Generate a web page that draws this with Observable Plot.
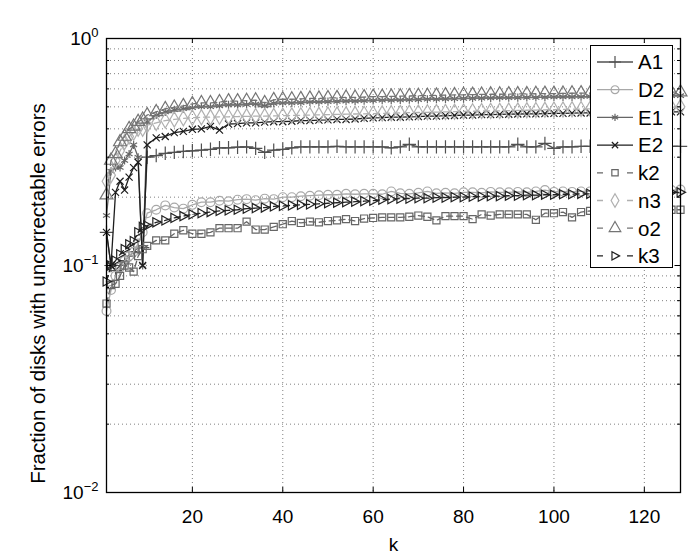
<!DOCTYPE html>
<html><head><meta charset="utf-8">
<script src="https://cdn.jsdelivr.net/npm/d3@7"></script>
<script src="https://cdn.jsdelivr.net/npm/@observablehq/plot@0.6"></script>
<style>
body{margin:0;background:#fff;}
#wrap{position:relative;width:700px;height:554px;font-family:"Liberation Sans",Arial,sans-serif;}
#legend{position:absolute;left:590px;top:45px;width:83px;height:223px;border:1.3px solid #000;background:#fff;box-sizing:border-box;}
</style></head><body><div id="wrap"><div id="legend"></div></div>
<script>
const k = [1,2,3,4,5,6,7,8,9,10,12,14,16,18,20,22,24,26,28,30,32,34,36,38,40,42,44,46,48,50,52,54,56,58,60,62,64,66,68,70,72,74,76,78,80,82,84,86,88,90,92,94,96,98,100,102,104,106,108,110,112,114,116,118,120,122,124,126,128];

const A1 = [0.14,0.10,0.095,0.10,0.105,0.11,0.115,0.12,0.12,0.30,
 0.305,0.312,0.315,0.318,0.32,0.322,0.325,0.33,0.33,0.332,
 0.333,0.328,0.315,0.322,0.325,0.33,0.333,0.333,0.333,0.333,
 0.335,0.333,0.333,0.333,0.333,0.333,0.33,0.333,0.342,0.333,
 0.333,0.333,0.333,0.333,0.333,0.333,0.333,0.333,0.333,0.333,
 0.342,0.333,0.333,0.345,0.328,0.333,0.333,0.335,0.335,0.335,
 0.335,0.335,0.335,0.335,0.335,0.335,0.335,0.335,0.335];
const D2 = [0.063,0.078,0.09,0.098,0.105,0.11,0.115,0.125,0.14,0.17,
 0.176,0.184,0.18,0.178,0.185,0.19,0.19,0.193,0.192,0.195,
 0.196,0.194,0.197,0.196,0.2,0.2,0.202,0.203,0.204,0.205,
 0.205,0.207,0.206,0.207,0.207,0.206,0.212,0.208,0.207,0.209,
 0.212,0.208,0.209,0.208,0.21,0.21,0.209,0.211,0.21,0.21,
 0.211,0.21,0.212,0.215,0.211,0.212,0.211,0.212,0.212,0.213,
 0.213,0.213,0.214,0.214,0.214,0.215,0.215,0.215,0.216];
const E1 = [0.166,0.26,0.27,0.27,0.29,0.31,0.34,0.30,0.10,0.43,
 0.46,0.475,0.485,0.49,0.495,0.50,0.50,0.505,0.51,0.51,
 0.512,0.515,0.505,0.518,0.52,0.52,0.522,0.525,0.525,0.527,
 0.528,0.53,0.53,0.532,0.533,0.535,0.535,0.536,0.537,0.538,
 0.54,0.54,0.542,0.543,0.544,0.545,0.546,0.547,0.548,0.548,
 0.549,0.55,0.55,0.551,0.552,0.553,0.553,0.554,0.555,0.555,
 0.556,0.556,0.557,0.557,0.558,0.558,0.559,0.56,0.56];
const E2 = [0.14,0.10,0.21,0.235,0.215,0.245,0.27,0.285,0.10,0.34,
 0.365,0.37,0.385,0.39,0.398,0.40,0.41,0.395,0.42,0.422,
 0.425,0.425,0.428,0.43,0.43,0.432,0.435,0.435,0.437,0.438,
 0.44,0.44,0.442,0.445,0.447,0.448,0.45,0.45,0.452,0.453,
 0.455,0.455,0.457,0.458,0.46,0.46,0.462,0.462,0.463,0.464,
 0.465,0.466,0.466,0.467,0.468,0.468,0.469,0.47,0.47,0.47,
 0.471,0.472,0.472,0.473,0.473,0.474,0.474,0.475,0.475];
const k2 = [0.068,0.082,0.083,0.09,0.10,0.098,0.094,0.11,0.118,0.122,
 0.129,0.129,0.138,0.143,0.138,0.138,0.14,0.146,0.146,0.146,
 0.156,0.144,0.144,0.148,0.152,0.157,0.154,0.156,0.155,0.157,
 0.158,0.16,0.157,0.161,0.162,0.163,0.163,0.163,0.164,0.166,
 0.164,0.158,0.165,0.165,0.165,0.16,0.168,0.166,0.168,0.168,
 0.168,0.168,0.159,0.17,0.17,0.172,0.163,0.172,0.174,0.172,
 0.173,0.172,0.174,0.174,0.175,0.174,0.175,0.176,0.176];
const n3 = [0.235,0.25,0.29,0.32,0.35,0.37,0.385,0.40,0.40,0.415,
 0.425,0.435,0.44,0.445,0.448,0.45,0.45,0.452,0.452,0.453,
 0.454,0.455,0.455,0.456,0.457,0.458,0.459,0.46,0.461,0.462,
 0.463,0.464,0.465,0.466,0.467,0.468,0.469,0.47,0.471,0.472,
 0.473,0.474,0.475,0.476,0.477,0.478,0.479,0.48,0.48,0.481,
 0.482,0.483,0.484,0.485,0.486,0.487,0.488,0.489,0.49,0.49,
 0.491,0.492,0.493,0.494,0.495,0.496,0.497,0.498,0.50];
const o2 = [0.204,0.29,0.31,0.35,0.37,0.40,0.41,0.43,0.44,0.46,
 0.475,0.49,0.497,0.505,0.515,0.52,0.52,0.525,0.53,0.53,
 0.532,0.535,0.52,0.537,0.54,0.54,0.542,0.545,0.545,0.547,
 0.548,0.55,0.55,0.552,0.555,0.555,0.556,0.557,0.558,0.56,
 0.56,0.562,0.563,0.564,0.565,0.566,0.567,0.568,0.568,0.569,
 0.57,0.57,0.571,0.572,0.572,0.573,0.574,0.575,0.575,0.576,
 0.576,0.577,0.577,0.578,0.578,0.579,0.579,0.58,0.58];
const k3 = [0.085,0.10,0.105,0.112,0.118,0.124,0.128,0.14,0.148,0.15,
 0.155,0.158,0.162,0.165,0.168,0.17,0.172,0.174,0.175,0.176,
 0.178,0.179,0.18,0.182,0.183,0.184,0.185,0.186,0.187,0.188,
 0.189,0.19,0.191,0.192,0.193,0.195,0.196,0.197,0.197,0.198,
 0.198,0.199,0.199,0.2,0.2,0.201,0.201,0.202,0.202,0.203,
 0.203,0.204,0.204,0.205,0.205,0.206,0.206,0.207,0.207,0.208,
 0.208,0.208,0.209,0.209,0.209,0.21,0.21,0.21,0.21];

const seriesNames = ["A1","D2","E1","E2","k2","n3","o2","k3"];
const xTicks = [20,40,60,80,100,120];
const yTicks = [0.01,0.1,1];
const yTickLabels = ["10^-2","10^-1","10^0"];

const triRight = {
  draw(ctx, size) {
    const h = Math.sqrt(size) * 0.62;
    ctx.moveTo(h * 1.05, 0);
    ctx.lineTo(-h * 0.7, -h * 0.95);
    ctx.lineTo(-h * 0.7, h * 0.95);
    ctx.closePath();
  }
};

const styles = {
  A1: {values: A1, color: "#505050", dash: null, symbol: "plus", r: 4.4},
  D2: {values: D2, color: "#a8a8a8", dash: null, symbol: "circle", r: 4.4},
  E1: {values: E1, color: "#666666", dash: null, symbol: "asterisk", r: 3.8},
  E2: {values: E2, color: "#1e1e1e", dash: null, symbol: "times", r: 3.3},
  k2: {values: k2, color: "#666666", dash: "6,4", symbol: "square", r: 4.0},
  n3: {values: n3, color: "#b0b0b0", dash: "6,4", symbol: "diamond", r: 4.6},
  o2: {values: o2, color: "#747474", dash: "6,4", symbol: "triangle", r: 4.8},
  k3: {values: k3, color: "#222222", dash: "6,4", symbol: triRight, r: 4.4}
};

const W = 700, H = 554, mL = 106, mR = 20, mT = 38, mB = 62;
const fw = W - mL - mR, fh = H - mT - mB;

const yMinor = [];
for (const d of [0.01, 0.1]) for (let m = 2; m <= 9; m++) yMinor.push(d * m);

const marks = [
  Plot.ruleX(xTicks, {x: d => d, stroke: "#808080", strokeDasharray: "1,3", strokeWidth: 1}),
  Plot.ruleY(yMinor.concat([0.1]), {y: d => d, stroke: "#808080", strokeDasharray: "1,3", strokeWidth: 1})
];

for (const name of seriesNames) {
  const s = styles[name];
  const rows = k.map((kk, i) => ({k: kk, v: s.values[i]}));
  marks.push(Plot.line(rows, {x: "k", y: "v", stroke: s.color, strokeWidth: 1.3, strokeDasharray: s.dash}));
  marks.push(Plot.dot(rows, {x: "k", y: "v", symbol: () => s.symbol, r: s.r, stroke: s.color, fill: "none", strokeWidth: 1.2}));
}

marks.push(
  Plot.frame({stroke: "#000", strokeWidth: 1.3}),
  Plot.tickX(xTicks, {x: d => d, insetTop: fh - 5, stroke: "#000"}),
  Plot.tickX(xTicks, {x: d => d, insetBottom: fh - 5, stroke: "#000"}),
  Plot.tickY(yTicks, {y: d => d, insetRight: fw - 5, stroke: "#000"}),
  Plot.tickY(yTicks, {y: d => d, insetLeft: fw - 5, stroke: "#000"}),
  Plot.tickY(yMinor, {y: d => d, insetRight: fw - 3, stroke: "#000"}),
  Plot.tickY(yMinor, {y: d => d, insetLeft: fw - 3, stroke: "#000"}),
  Plot.axisX(xTicks, {tickSize: 0, tickPadding: 17, label: "k", labelAnchor: "center", labelArrow: "none", labelOffset: 58}),
  Plot.axisY(yTicks, {tickSize: 0, tickPadding: 8, tickFormat: d => yTickLabels[yTicks.indexOf(d)],
    label: "Fraction of disks with uncorrectable errors", labelAnchor: "center", labelArrow: "none", labelOffset: 76})
);

const chart = Plot.plot({
  width: W, height: H,
  marginLeft: mL, marginRight: mR, marginTop: mT, marginBottom: mB,
  x: {domain: [1, 128]},
  y: {type: "log", domain: [0.01, 1]},
  style: {fontFamily: "'Liberation Sans', Arial, sans-serif", fontSize: "19px", color: "#000", background: "#fff", overflow: "visible"},
  marks
});

const sel = d3.select(chart);
sel.selectAll('g[aria-label="x-axis tick label"] text, g[aria-label="y-axis tick label"] text, g[aria-label="x-axis label"] text')
  .style("font-size", "19px").style("font-family", "'Liberation Sans', Arial, sans-serif");
// y-axis title: slightly larger, and sitting a little below the frame centre as in the original
sel.selectAll('g[aria-label="y-axis label"] text')
  .style("font-size", "20.5px").style("font-family", "'Liberation Sans', Arial, sans-serif")
  .attr("dx", -28);

// superscript exponents on y tick labels
sel.selectAll('g[aria-label="y-axis tick label"] text').each(function () {
  const t = this.textContent;
  const exp = t.split("^")[1];
  this.textContent = "";
  const s = d3.select(this);
  s.append("tspan").text("10");
  s.append("tspan").attr("dy", "-0.55em").style("font-size", "13px").text(exp.replace("-", "\u2212"));
});

const wrap = document.getElementById("wrap");
wrap.insertBefore(chart, wrap.firstChild);

// legend
const lg = d3.select("#legend").append("svg").attr("width", 81).attr("height", 221);
seriesNames.forEach((name, i) => {
  const s = styles[name];
  const cy = 16 + i * 27.7;
  lg.append("line").attr("x1", 6).attr("x2", 42).attr("y1", cy).attr("y2", cy)
    .attr("stroke", s.color).attr("stroke-width", 1.3)
    .attr("stroke-dasharray", s.dash ? "6,24" : null);
  const sym = typeof s.symbol === "string"
    ? {plus: d3.symbolPlus, circle: d3.symbolCircle, asterisk: d3.symbolAsterisk, times: d3.symbolTimes, square: d3.symbolSquare, diamond: d3.symbolDiamond, triangle: d3.symbolTriangle}[s.symbol]
    : s.symbol;
  lg.append("path").attr("d", d3.symbol(sym, Math.PI * s.r * s.r * 0.8)())
    .attr("transform", `translate(24,${cy})`).attr("fill", "none").attr("stroke", s.color).attr("stroke-width", 1.2);
  lg.append("text").attr("x", 47).attr("y", cy).attr("dy", "0.36em")
    .style("font-size", "20.5px").style("font-family", "'Liberation Sans', Arial, sans-serif").text(name);
});
</script></body></html>
